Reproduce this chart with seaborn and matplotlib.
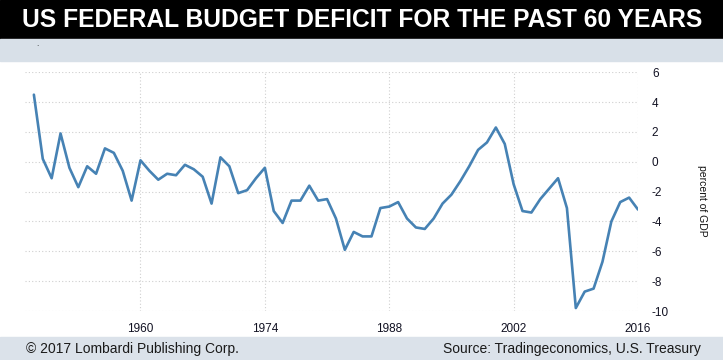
import numpy as np
import pandas as pd
import matplotlib
matplotlib.use('Agg')
import matplotlib.pyplot as plt
import seaborn as sns

# -------------------------
# Data: US federal budget balance, percent of GDP
# -------------------------
years = list(range(1948, 2017))
balance = [
    4.5, 0.2, -1.1, 1.9, -0.4, -1.7, -0.3, -0.8, 0.9, 0.6,
    -0.6, -2.6, 0.1, -0.6, -1.2, -0.8, -0.9, -0.2, -0.5, -1.0,
    -2.8, 0.3, -0.3, -2.1, -1.9, -1.1, -0.4, -3.3, -4.1, -2.6,
    -2.6, -1.6, -2.6, -2.5, -3.8, -5.9, -4.7, -5.0, -5.0, -3.1,
    -3.0, -2.7, -3.8, -4.4, -4.5, -3.8, -2.8, -2.2, -1.3, -0.3,
    0.8, 1.3, 2.3, 1.2, -1.5, -3.3, -3.4, -2.5, -1.8, -1.1,
    -3.1, -9.8, -8.7, -8.5, -6.7, -4.0, -2.7, -2.4, -3.2,
]
df = pd.DataFrame({'year': years, 'balance': balance})

xticks = [1960, 1974, 1988, 2002, 2016]
yticks = [-10, -8, -6, -4, -2, 0, 2, 4, 6]

title = 'US FEDERAL BUDGET DEFICIT FOR THE PAST 60 YEARS'
left_note = '\u00a9 2017 Lombardi Publishing Corp.'
right_note = 'Source: Tradingeconomics, U.S. Treasury'

# -------------------------
# Figure
# -------------------------
sns.set_theme(style='white')
plt.rcParams['font.family'] = ['Liberation Sans', 'DejaVu Sans']

W, H = 723, 360
fig = plt.figure(figsize=(W / 100, H / 100), dpi=100)
fig.patch.set_facecolor('white')

# header / footer bands
fig.patches.append(plt.Rectangle((0, 1 - 39 / H), 1, 39 / H, transform=fig.transFigure,
                                 color='black', zorder=0))
fig.patches.append(plt.Rectangle((0, 1 - 61 / H), 1, 22 / H, transform=fig.transFigure,
                                 color='#d8e0e8', zorder=0))
fig.patches.append(plt.Rectangle((0, 0), 1, 23 / H, transform=fig.transFigure,
                                 color='#dbe2ea', zorder=0))

fig.text(362 / W, 1 - 20 / H, title, color='white', ha='center', va='center',
         fontsize=17.7, fontweight='bold')
fig.text(37 / W, 1 - 44 / H, '.', color='#222222', fontsize=6, ha='center', va='center')

# plot area
ax_left, ax_right = 25, 638
ax_top, ax_bottom = 72.3, 311
ax = fig.add_axes([ax_left / W, (H - ax_bottom) / H,
                   (ax_right - ax_left) / W, (ax_bottom - ax_top) / H])
ax.set_facecolor('white')

sns.lineplot(data=df, x='year', y='balance', ax=ax, color='#4682b4', linewidth=1.9)

ax.set_xlim(1947, 2016)
ax.set_ylim(-10, 6)
ax.set_xticks(xticks)
ax.set_yticks(yticks)
ax.set_xticklabels([str(t) for t in xticks])
ax.set_yticklabels([str(t) for t in yticks])
ax.set_xlabel('')
ax.set_ylabel('')

ax.yaxis.tick_right()
ax.grid(True, linestyle=(0, (1, 2)), color='#cfcfcf', linewidth=0.8)
for s in ax.spines.values():
    s.set_visible(False)
ax.tick_params(axis='x', length=4, color='#cccccc', pad=5, labelsize=8.5, labelcolor='#111122')
ax.tick_params(axis='y', length=0, pad=10, labelsize=8.5, labelcolor='#111122')
for lbl in ax.get_yticklabels():
    lbl.set_horizontalalignment('left')

fig.text(702 / W, 1 - 201 / H, 'percent of GDP', rotation=270, ha='center', va='center',
         fontsize=7.5, color='#111111')

# footer
fig.text(26 / W, 11.5 / H, left_note, ha='left', va='center', fontsize=10, color='#1a1a1a')
fig.text(701 / W, 11.5 / H, right_note, ha='right', va='center', fontsize=10, color='#1a1a1a')

fig.savefig('out.png', dpi=100)
plt.close(fig)
